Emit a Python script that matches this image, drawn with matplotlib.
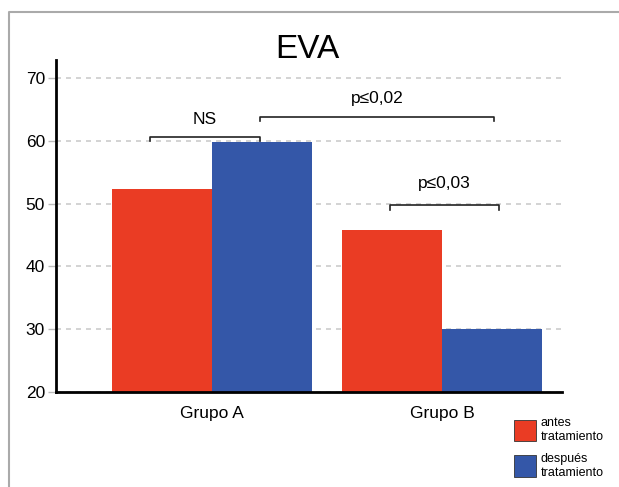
import numpy as np
import matplotlib.pyplot as plt
from matplotlib.lines import Line2D

plt.rcParams['font.family'] = ['Liberation Sans', 'DejaVu Sans']

groups = ['Grupo A', 'Grupo B']
antes = [52.3, 45.8]
despues = [59.8, 30.0]
series_names = ['antes\ntratamiento', 'después\ntratamiento']
colors = ['#EA3C24', '#3457A8']

W, H = 619, 487
fig = plt.figure(figsize=(W / 100, H / 100), dpi=100)
ax = fig.add_axes([56 / W, 95 / H, (562 - 56) / W, (392 - 60) / H])

x = np.arange(len(groups))
width = 0.435
b1 = ax.bar(x - width / 2, antes, width, color=colors[0], label=series_names[0], zorder=3)
b2 = ax.bar(x + width / 2, despues, width, color=colors[1], label=series_names[1], zorder=3)

ax.set_ylim(20, 72.9)
ax.set_xlim(-0.678, 1.522)
ax.set_yticks(range(20, 71, 10))
ax.set_xticks(x)
ax.set_xticklabels(groups, fontsize=12.5)
ax.tick_params(axis='y', labelsize=12.5, length=6, width=1, color='#bbbbbb', pad=2)
ax.tick_params(axis='x', length=0, pad=10)
ax.yaxis.grid(True, linestyle=(0, (3, 3)), color='#cccccc', linewidth=1.2, zorder=0)
for s in ['top', 'right']:
    ax.spines[s].set_visible(False)
for s in ['left', 'bottom']:
    ax.spines[s].set_linewidth(2)
    ax.spines[s].set_zorder(4)

fig.text(307 / W, 1 - 50 / H, 'EVA', fontsize=24, ha='center', va='center')


def bracket(x0, x1, y, drop, text, ty):
    ax.plot([x0, x0, x1, x1], [y - drop, y, y, y - drop], color='#222222', lw=1.2, zorder=5, clip_on=False)
    ax.text((x0 + x1) / 2, ty, text, ha='center', va='center', fontsize=12.5)


xa_r, xa_b = x[0] - width / 2, x[0] + width / 2
xb_r, xb_b = x[1] - width / 2, x[1] + width / 2
bracket(xa_r - 0.05, xa_b - 0.01, 60.6, 0.6, 'NS', 63.4)
bracket(xa_b - 0.01, xb_b + 0.01, 63.8, 0.6, 'p≤0,02', 66.7)
bracket(xb_r - 0.01, xb_b + 0.03, 49.8, 0.8, 'p≤0,03', 53.3)

leg = fig.legend(handles=[b1, b2], loc='upper left', bbox_to_anchor=(514 / W, 1 - 417 / H),
                 frameon=False, fontsize=9, handlelength=1.75, handleheight=2.3,
                 handletextpad=0.4, labelspacing=0.8, borderpad=0, borderaxespad=0)
for p in leg.get_patches():
    p.set_edgecolor('#333333')
    p.set_linewidth(0.6)

# gray frame
fig.add_artist(Line2D([9 / W, 9 / W, 1], [0, 1 - 12 / H, 1 - 12 / H], color='#aaaaaa', lw=1.5))

fig.savefig('out.png', dpi=100)
